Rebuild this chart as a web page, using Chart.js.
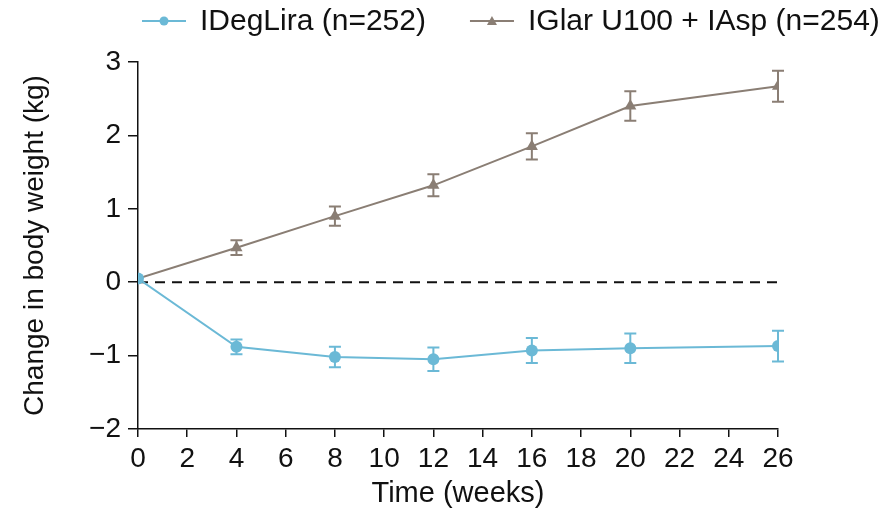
<!DOCTYPE html>
<html>
<head>
<meta charset="utf-8">
<script src="https://cdn.jsdelivr.net/npm/chart.js@4.4.1/dist/chart.umd.min.js"></script>
<style>
  html, body { margin: 0; padding: 0; background: #ffffff; }
  #wrap { width: 892px; height: 513px; }
</style>
</head>
<body>
<div id="wrap"><canvas id="chart" width="892" height="513"></canvas></div>
<script>
// Mean change in body weight (kg) with standard error, by treatment week
const weeks = [0, 4, 8, 12, 16, 20, 26];
const idegliraMean = [0.05, -0.88, -1.02, -1.05, -0.93, -0.90, -0.87];
const idegliraSE   = [0, 0.10, 0.14, 0.16, 0.17, 0.20, 0.21];
const iglarMean    = [0.05, 0.47, 0.90, 1.32, 1.85, 2.40, 2.67];
const iglarSE      = [0, 0.10, 0.13, 0.15, 0.18, 0.20, 0.21];
const seriesLabels = ['IDegLira (n=252)', 'IGlar U100 + IAsp (n=254)'];
const xTickValues  = [0, 2, 4, 6, 8, 10, 12, 14, 16, 18, 20, 22, 24, 26];
const yTickValues  = [3, 2, 1, 0, -1, -2];
const yTickLabels  = ['3', '2', '1', '0', '\u22121', '\u22122'];
const referenceLevel = [0, 0];
const referenceWeeks = [0, 26];

const BLUE = '#6bb9d6';
const GREY = '#8a7e74';
const FONT = "'Liberation Sans', Arial, Helvetica, sans-serif";

const toPoints = (xs, ys) => xs.map((x, i) => ({ x: x, y: ys[i] }));

// Vertical error bars with caps, drawn beneath the markers
const errorBars = {
  id: 'errorBars',
  beforeDatasetsDraw(chart) {
    const { ctx, scales: { x, y } } = chart;
    chart.data.datasets.forEach((ds) => {
      if (!ds.errors) return;
      ctx.save();
      ctx.strokeStyle = ds.borderColor;
      ctx.lineWidth = 2;
      ds.data.forEach((p, i) => {
        const e = ds.errors[i];
        if (!e) return;
        const px = x.getPixelForValue(p.x);
        const top = y.getPixelForValue(p.y + e);
        const bot = y.getPixelForValue(p.y - e);
        ctx.beginPath();
        ctx.moveTo(px, top); ctx.lineTo(px, bot);
        ctx.moveTo(px - 6, top); ctx.lineTo(px + 6, top);
        ctx.moveTo(px - 6, bot); ctx.lineTo(px + 6, bot);
        ctx.stroke();
      });
      ctx.restore();
    });
  }
};

// Legend row: short line with the series marker, then its label
const lineLegend = {
  id: 'lineLegend',
  afterDraw(chart) {
    const ctx = chart.ctx;
    const cy = 21;
    let cx = 142;
    ctx.save();
    ctx.font = '30px ' + FONT;
    ctx.textBaseline = 'middle';
    chart.data.datasets.forEach(ds => {
      if (!ds.inLegend) return;
      ctx.strokeStyle = ds.borderColor;
      ctx.fillStyle = ds.borderColor;
      ctx.lineWidth = 2;
      ctx.beginPath();
      ctx.moveTo(cx, cy); ctx.lineTo(cx + 44, cy);
      ctx.stroke();
      const mx = cx + 22;
      ctx.beginPath();
      if (ds.pointStyle === 'triangle') {
        ctx.moveTo(mx, cy - 5); ctx.lineTo(mx + 5, cy + 4); ctx.lineTo(mx - 5, cy + 4);
        ctx.closePath();
      } else {
        ctx.arc(mx, cy, 4.5, 0, Math.PI * 2);
      }
      ctx.fill();
      ctx.fillStyle = '#111111';
      ctx.fillText(ds.label, cx + 58, cy + 1);
      cx += 58 + ctx.measureText(ds.label).width + 44;
    });
    ctx.restore();
  }
};

new Chart(document.getElementById('chart'), {
  type: 'line',
  data: {
    datasets: [
      {
        label: seriesLabels[0],
        data: toPoints(weeks, idegliraMean),
        errors: idegliraSE,
        inLegend: true,
        borderColor: BLUE,
        backgroundColor: BLUE,
        borderWidth: 2,
        pointStyle: 'circle',
        pointRadius: 6,
        pointBorderWidth: 0,
        tension: 0
      },
      {
        label: seriesLabels[1],
        data: toPoints(weeks, iglarMean),
        errors: iglarSE,
        inLegend: true,
        borderColor: GREY,
        backgroundColor: GREY,
        borderWidth: 2,
        pointStyle: 'triangle',
        pointRadius: 7,
        pointBorderWidth: 0,
        tension: 0
      },
      {
        label: 'zero',
        data: toPoints(referenceWeeks, referenceLevel),
        borderColor: '#111111',
        borderWidth: 2,
        borderDash: [10, 7],
        pointRadius: 0
      }
    ]
  },
  options: {
    responsive: false,
    animation: false,
    devicePixelRatio: 1,
    layout: { padding: { left: 0, right: 114, top: 62, bottom: 0 } },
    plugins: {
      legend: { display: false },
      tooltip: { enabled: false }
    },
    scales: {
      x: {
        type: 'linear',
        min: 0,
        max: 26,
        afterBuildTicks(scale) { scale.ticks = xTickValues.map(v => ({ value: v })); },
        afterFit(scale) { scale.height = 84; },
        grid: { drawOnChartArea: false, drawTicks: true, tickLength: 8, color: '#111111', lineWidth: 1.5 },
        border: { display: true, color: '#111111', width: 1.5 },
        ticks: { color: '#111111', font: { family: FONT, size: 28 }, padding: 5, maxRotation: 0, autoSkip: false },
        title: { display: true, text: 'Time (weeks)', color: '#111111', font: { family: FONT, size: 29 }, padding: { top: 0, bottom: 2 } }
      },
      y: {
        type: 'linear',
        min: -2,
        max: 3,
        afterBuildTicks(scale) { scale.ticks = yTickValues.map(v => ({ value: v })); },
        afterFit(scale) { scale.width = 138; },
        grid: { drawOnChartArea: false, drawTicks: true, tickLength: 10, color: '#111111', lineWidth: 1.5 },
        border: { display: true, color: '#111111', width: 1.5 },
        ticks: {
          color: '#111111',
          font: { family: FONT, size: 28 },
          padding: 7,
          callback: (v) => yTickLabels[yTickValues.indexOf(v)]
        },
        title: { display: true, text: 'Change in body weight (kg)', color: '#111111', font: { family: FONT, size: 28 }, padding: { top: 18, bottom: 0 } }
      }
    }
  },
  plugins: [errorBars, lineLegend]
});
</script>
</body>
</html>
